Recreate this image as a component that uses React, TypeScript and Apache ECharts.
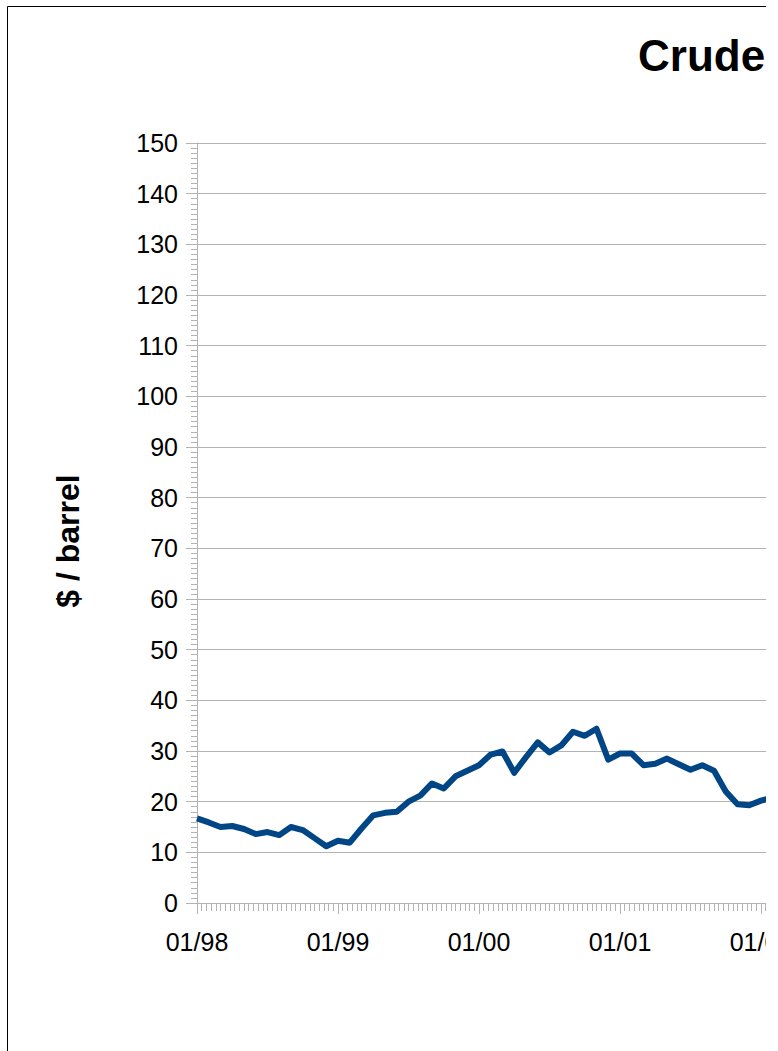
import React, { useEffect, useRef } from "react";
import * as echarts from "echarts";

// Monthly crude oil price ($/barrel), starting 01/1998
const startYear = 1998;
const prices = [
  16.7, 15.9, 15.0, 15.2, 14.6, 13.6, 14.0, 13.4, 15.0, 14.4, 12.8, 11.2,
  12.3, 11.9, 14.7, 17.3, 17.8, 18.0, 20.0, 21.2, 23.6, 22.6, 25.0, 26.1,
  27.2, 29.3, 29.9, 25.7, 28.8, 31.7, 29.7, 31.1, 33.8, 33.0, 34.4, 28.3,
  29.5, 29.5, 27.2, 27.5, 28.5, 27.4, 26.3, 27.2, 26.1, 22.0, 19.5, 19.3,
  20.2, 20.8,
];
const yTicks = [0, 150, 10];
const titleText = "Crude Oil Prices";
const yAxisTitle = "$ / barrel";

const FONT = "'Liberation Sans', Arial, sans-serif";
const GRAY = "#b3b3b3";

export default function App() {
  const ref = useRef<HTMLDivElement>(null);
  useEffect(() => {
    if (!ref.current) return;
    const chart = echarts.init(ref.current, undefined, { renderer: "svg" });
    const seriesData = prices.map((v, i) => [i, v]);
    chart.setOption({
      animation: false,
      backgroundColor: "#ffffff",
      grid: { left: 197, top: 143, width: 1551, height: 760 },
      xAxis: {
        type: "value",
        min: 0,
        max: 132,
        interval: 12,
        axisLine: { show: true, lineStyle: { color: GRAY, width: 1 } },
        axisTick: { show: true, length: 11, lineStyle: { color: GRAY, width: 1 } },
        minorTick: { show: true, splitNumber: 30, length: 8, lineStyle: { color: GRAY, width: 1 } },
        splitLine: { show: false },
        axisLabel: {
          color: "#000",
          fontFamily: FONT,
          fontSize: 25,
          margin: 26,
          formatter: (v: number) => {
            const yy = (startYear + Math.round(v / 12)) % 100;
            return "01/" + String(yy).padStart(2, "0");
          },
        },
      },
      yAxis: {
        type: "value",
        min: yTicks[0],
        max: yTicks[1],
        interval: yTicks[2],
        axisLine: { show: true, lineStyle: { color: GRAY, width: 1 } },
        axisTick: { show: true, length: 11, lineStyle: { color: GRAY, width: 1 } },
        minorTick: { show: true, splitNumber: 10, length: 6, lineStyle: { color: GRAY, width: 1 } },
        splitLine: { show: true, lineStyle: { color: GRAY, width: 1 } },
        axisLabel: { color: "#000", fontFamily: FONT, fontSize: 25, margin: 19 },
      },
      series: [
        {
          type: "line",
          data: seriesData,
          showSymbol: false,
          symbol: "none",
          lineStyle: { color: "#004586", width: 6, join: "round" },
          itemStyle: { color: "#004586" },
        },
      ],
      graphic: [
        {
          type: "rect",
          shape: { x: 7.5, y: 6.5, width: 1780, height: 1130 },
          style: { fill: "none", stroke: "#000", lineWidth: 1 },
          silent: true,
        },
        {
          type: "text",
          left: 638,
          top: 33,
          style: {
            text: titleText,
            fontFamily: FONT,
            fontSize: 44,
            fontWeight: "bold",
            fill: "#000",
          },
        },
        {
          type: "text",
          x: 68,
          y: 541,
          rotation: Math.PI / 2,
          style: {
            text: yAxisTitle,
            fontFamily: FONT,
            fontSize: 32,
            fontWeight: "bold",
            fill: "#000",
            align: "center",
            verticalAlign: "middle",
          },
        },
      ],
    });
    return () => chart.dispose();
  }, []);
  return (
    <div
      style={{
        position: "fixed",
        left: 0,
        top: 0,
        width: 766,
        height: 1051,
        overflow: "hidden",
        background: "#fff",
      }}
    >
      <div ref={ref} style={{ width: 1800, height: 1150 }} />
    </div>
  );
}
